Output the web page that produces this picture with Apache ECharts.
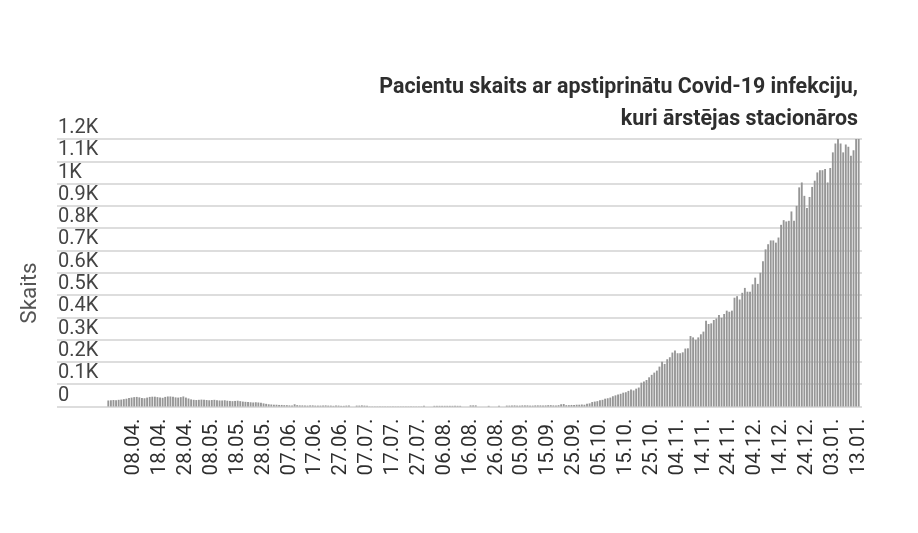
<!DOCTYPE html>
<html>
<head>
<meta charset="utf-8">
<script src="https://cdn.jsdelivr.net/npm/echarts@6/dist/echarts.min.js"></script>
<style>
html,body{margin:0;padding:0;background:#fff;}
#chart{width:918px;height:533px;}
</style>
</head>
<body>
<div id="chart"></div>
<script>
// First day of the series (29.03.2020), one bar per day
var startDate = [2020, 2, 29];
var titleText = 'Pacientu skaits ar apstiprinātu Covid-19 infekciju,\nkuri ārstējas stacionāros';
var yAxisName = 'Skaits';
var yTicks = [0, 100, 200, 300, 400, 500, 600, 700, 800, 900, 1000, 1100, 1200];

var patients = [
  27,28,29,28,30,31,33,35,38,40,
  42,43,41,38,37,40,43,44,44,42,
  40,39,43,45,45,44,41,40,42,45,
  40,36,32,30,29,30,31,30,29,28,
  29,30,28,27,27,28,26,25,24,25,
  26,24,22,21,20,19,18,19,18,17,
  14,12,10,9,8,8,7,7,6,6,
  5,5,10,6,5,5,4,4,5,5,
  4,4,4,5,5,4,4,3,4,4,
  3,3,4,4,0,0,4,4,5,4,
  3,1,1,1,1,1,1,1,1,1,
  1,1,1,1,1,1,1,1,1,1,
  1,1,3,0,0,0,3,3,3,3,
  3,3,3,3,3,3,3,0,0,0,
  5,5,5,0,0,0,0,3,0,0,
  0,3,0,0,4,4,5,5,4,4,
  5,5,5,4,4,5,5,5,4,5,
  6,6,5,5,6,10,11,6,6,7,
  7,8,8,9,8,12,14,20,22,24,
  28,30,35,37,40,46,50,54,57,62,
  64,70,76,72,80,85,107,112,119,131,
  142,152,161,179,201,191,212,221,242,251,
  239,239,243,260,261,316,310,299,310,324,
  336,385,370,373,388,395,410,398,415,430,
  425,430,488,495,480,510,532,515,515,548,
  578,550,600,652,705,728,745,745,735,758,
  815,836,830,833,875,833,900,983,1005,945,
  890,940,985,1013,1050,1060,1060,1065,1005,1070,
  1140,1180,1200,1180,1140,1175,1165,1125,1150,1200,1200
];

function pad(n){ return (n < 10 ? '0' : '') + n; }
var dates = [];
for (var i = 0; i < patients.length; i++) {
  var d = new Date(startDate[0], startDate[1], startDate[2] + i);
  dates.push(pad(d.getDate()) + '.' + pad(d.getMonth() + 1) + '.');
}

var chart = echarts.init(document.getElementById('chart'), null, {renderer: 'canvas'});
var FONT = 'Roboto, "Noto Sans", sans-serif';
var TOP = 139, BOTTOM = 126.5;

chart.setOption({
  animation: false,
  backgroundColor: '#ffffff',
  title: {
    text: titleText,
    left: 853,
    top: 67,
    textAlign: 'right',
    textStyle: {
      fontFamily: FONT,
      fontSize: 21.4,
      fontWeight: 'bold',
      color: '#2e2e2e',
      lineHeight: 32,
      align: 'right'
    }
  },
  graphic: [{
    type: 'text',
    x: 30,
    y: 293,
    rotation: Math.PI / 2,
    style: {
      text: yAxisName,
      fontFamily: FONT,
      fontSize: 22.5,
      fill: '#555555',
      align: 'center',
      verticalAlign: 'middle'
    }
  }],
  grid: [
    {left: 57, right: 56, top: TOP, bottom: BOTTOM},
    {left: 107, right: 58, top: TOP, bottom: BOTTOM}
  ],
  xAxis: [
    {gridIndex: 0, type: 'value', show: false, min: 0, max: 1},
    {
      gridIndex: 1,
      type: 'category',
      data: dates,
      axisLine: {show: false},
      axisTick: {show: false},
      axisLabel: {
        rotate: 90,
        margin: 12,
        fontFamily: FONT,
        fontSize: 20.5,
        color: '#2e2e2e',
        interval: function (idx) { return idx > 0 && idx % 10 === 0; }
      }
    }
  ],
  yAxis: [
    {
      gridIndex: 0,
      type: 'value',
      min: yTicks[0],
      max: yTicks[yTicks.length - 1],
      interval: yTicks[1] - yTicks[0],
      axisLine: {show: false},
      axisTick: {show: false},
      splitLine: {lineStyle: {color: '#d2d2d2', width: 1.5}},
      axisLabel: {
        inside: true,
        margin: 1,
        fontFamily: FONT,
        fontSize: 20,
        color: '#444444',
        verticalAlign: 'bottom',
        lineHeight: 20,
        padding: [0, 0, 1, 0],
        formatter: function (v) { return v === 0 ? '0' : (v / 100) / 10 + 'K'; }
      }
    },
    {
      gridIndex: 1,
      type: 'value',
      min: yTicks[0],
      max: yTicks[yTicks.length - 1],
      show: false,
      splitLine: {show: false}
    }
  ],
  series: [{
    type: 'bar',
    xAxisIndex: 1,
    yAxisIndex: 1,
    data: patients,
    barCategoryGap: '28%',
    itemStyle: {color: '#969696'}
  }]
});
</script>
</body>
</html>
